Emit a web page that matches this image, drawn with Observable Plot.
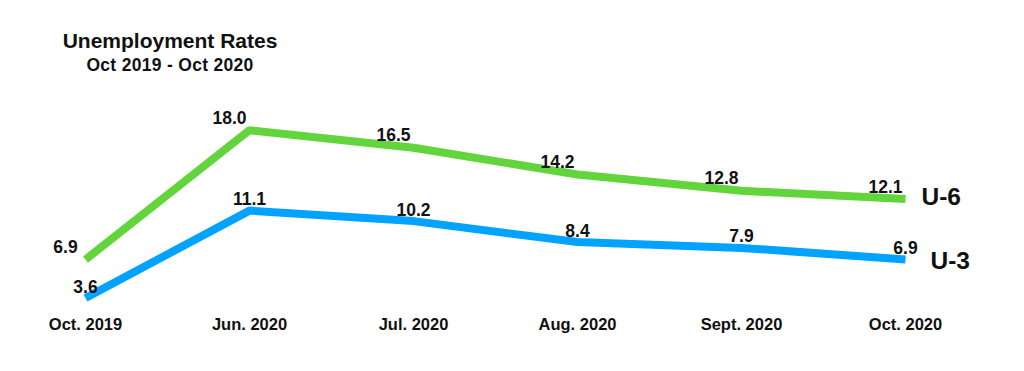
<!DOCTYPE html>
<html><head><meta charset="utf-8">
<script src="https://cdn.jsdelivr.net/npm/d3@7"></script>
<script src="https://cdn.jsdelivr.net/npm/@observablehq/plot@0.6"></script>
<style>
body{margin:0;background:#fff;font-family:"Liberation Sans",Arial,Helvetica,sans-serif;}
#wrap{position:relative;width:1024px;height:371px;overflow:hidden;}
#title{position:absolute;left:50px;top:30px;width:240px;text-align:center;font-weight:bold;color:#111;line-height:1;}
#title .t{font-size:21px;}
#title .s{font-size:17.5px;margin-top:6px;letter-spacing:0.3px;}
#chart{position:absolute;left:0;top:0;}
</style></head><body>
<div id="wrap">
<div id="chart"></div>
<div id="title"><div class="t">Unemployment Rates</div><div class="s">Oct 2019 - Oct 2020</div></div>
</div>
<script>
const months = ["Oct. 2019", "Jun. 2020", "Jul. 2020", "Aug. 2020", "Sept. 2020", "Oct. 2020"];
const u6 = [6.9, 18.0, 16.5, 14.2, 12.8, 12.1];
const u3 = [3.6, 11.1, 10.2, 8.4, 7.9, 6.9];
const seriesNames = ["U-6", "U-3"];

const green = months.map((m, i) => ({month: m, value: u6[i]}));
const blue = months.map((m, i) => ({month: m, value: u3[i]}));
const GREEN = "#62d43c", BLUE = "#00a3ff";
const fmt = d => d.value.toFixed(1);

const plot = Plot.plot({
  width: 1024,
  height: 371,
  marginLeft: 83,
  marginRight: 117,
  marginTop: 30.7,
  marginBottom: 60.7,
  style: {fontFamily: '"Liberation Sans", Arial, sans-serif', background: "#fff", color: "#111"},
  x: {type: "point", domain: months, padding: 0},
  y: {domain: [2.5, 26.5], axis: null},
  marks: [
    Plot.axisX({tickSize: 0, tickPadding: 7, fontSize: 16.5, fontWeight: "bold", fill: "#111", label: null}),
    Plot.line(green, {x: "month", y: "value", stroke: GREEN, strokeWidth: 8, strokeLinecap: "butt", strokeLinejoin: "miter"}),
    Plot.line(blue, {x: "month", y: "value", stroke: BLUE, strokeWidth: 8, strokeLinecap: "butt", strokeLinejoin: "miter"}),
    Plot.text(green, {x: "month", y: "value", text: fmt, dx: -20, dy: -12, fontSize: 17.5, fontWeight: "bold", fill: "#111"}),
    Plot.text(blue, {x: "month", y: "value", text: fmt, dx: 0, dy: -11, fontSize: 17.5, fontWeight: "bold", fill: "#111"}),
    Plot.text([green[green.length - 1]], {x: "month", y: "value", text: () => seriesNames[0], textAnchor: "start", dx: 16, dy: -2, fontSize: 24.5, fontWeight: "bold", fill: "#111"}),
    Plot.text([blue[blue.length - 1]], {x: "month", y: "value", text: () => seriesNames[1], textAnchor: "start", dx: 25, dy: 2, fontSize: 24.5, fontWeight: "bold", fill: "#111"})
  ]
});
document.getElementById("chart").appendChild(plot);
</script>
</body></html>
